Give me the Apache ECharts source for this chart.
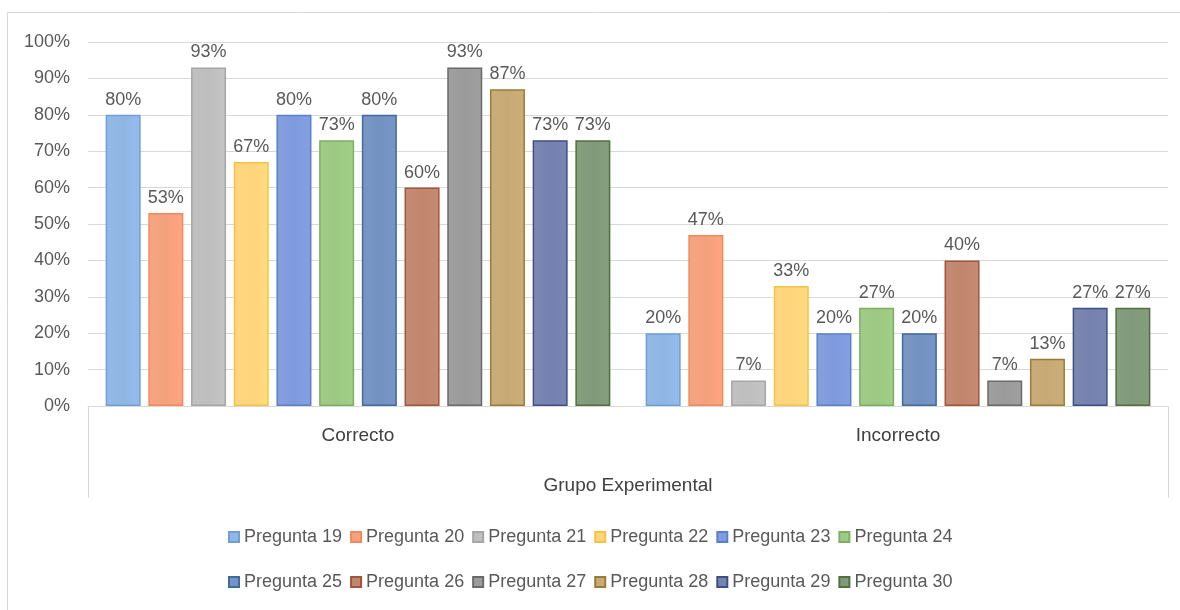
<!DOCTYPE html>
<html>
<head>
<meta charset="utf-8">
<script src="https://cdn.jsdelivr.net/npm/echarts@6/dist/echarts.min.js"></script>
<style>
html,body{margin:0;padding:0;background:#fff;}
#main{width:1180px;height:610px;}
</style>
</head>
<body>
<div id="main"></div>
<script>
const categories = ['Correcto', 'Incorrecto'];
const questions = ['Pregunta 19','Pregunta 20','Pregunta 21','Pregunta 22','Pregunta 23','Pregunta 24',
                   'Pregunta 25','Pregunta 26','Pregunta 27','Pregunta 28','Pregunta 29','Pregunta 30'];
const correcto   = [80, 53, 93, 67, 80, 73, 80, 60, 93, 87, 73, 73];
const incorrecto = [20, 47,  7, 33, 20, 27, 20, 40,  7, 13, 27, 27];
const groupTitle = 'Grupo Experimental';

const fills   = ['#8fb5e4','#f5a07c','#bebebe','#ffd47c','#7f9adc','#9cc883','#7391c1','#c1856d','#9a9a9a','#c6a974','#7581ae','#80997a'];
const borders = ['#6f9fd8','#ee8a5e','#a6a6a6','#f5c342','#5b7fcf','#7daf60','#3f6a9e','#a2553b','#6a6a6a','#9c7c34','#3e4f86','#51703f'];

const G = {left: 88, right: 12, top: 42, bottom: 204};
const W = 1180, H = 610;
const FONT = '"Liberation Sans", sans-serif';

const chart = echarts.init(document.getElementById('main'), null, {renderer: 'canvas'});

function grad(c) {
  return new echarts.graphic.LinearGradient(0, 0, 1, 0, [
    {offset: 0, color: echarts.color.lift(c, 0.06)},
    {offset: 0.5, color: c},
    {offset: 1, color: echarts.color.lift(c, -0.04)}
  ]);
}

const series = questions.map((q, i) => ({
  name: q,
  type: 'bar',
  data: [correcto[i], incorrecto[i]],
  barWidth: 35,
  barGap: '22%',
  itemStyle: {color: grad(fills[i]), borderColor: borders[i], borderWidth: 1.5},
  label: {
    show: true, position: 'top', distance: 6,
    formatter: p => p.value + '%',
    color: '#595959', fontFamily: FONT, fontSize: 18
  }
}));

const axisBottom = H - G.bottom;
const boxBottom = axisBottom + 92;

const legendCommon = {
  left: 223, itemWidth: 10, itemHeight: 10, itemGap: 8, icon: 'rect',
  textStyle: {color: '#595959', fontSize: 18, fontFamily: FONT}
};

chart.setOption({
  animation: false,
  backgroundColor: '#fff',
  textStyle: {fontFamily: FONT},
  grid: {left: G.left, right: G.right, top: G.top, bottom: G.bottom, containLabel: false},
  legend: [
    Object.assign({data: questions.slice(0, 6), top: 523}, legendCommon),
    Object.assign({data: questions.slice(6), top: 568}, legendCommon)
  ],
  xAxis: {
    type: 'category',
    data: categories,
    axisLine: {show: true, lineStyle: {color: '#d9d9d9', width: 1}},
    axisTick: {show: false},
    axisLabel: {color: '#404040', fontSize: 19, fontFamily: FONT, margin: 20},
    name: groupTitle,
    nameLocation: 'middle',
    nameGap: 70,
    nameTextStyle: {color: '#404040', fontSize: 19, fontFamily: FONT}
  },
  yAxis: {
    type: 'value',
    min: 0, max: 100, interval: 10,
    axisLabel: {formatter: v => v + '%', color: '#595959', fontSize: 18, fontFamily: FONT, margin: 18},
    axisLine: {show: false},
    axisTick: {show: false},
    splitLine: {lineStyle: {color: '#d9d9d9', width: 1}}
  },
  graphic: [
    {type: 'rect', shape: {x: 7.5, y: 12.5, width: W - 6, height: H},
     style: {fill: 'none', stroke: '#d9d9d9', lineWidth: 1}, silent: true, z: -1},
    {type: 'line', shape: {x1: G.left + 0.5, y1: axisBottom, x2: G.left + 0.5, y2: boxBottom},
     style: {stroke: '#d9d9d9', lineWidth: 1}, silent: true},
    {type: 'line', shape: {x1: W - G.right + 0.5, y1: axisBottom, x2: W - G.right + 0.5, y2: boxBottom},
     style: {stroke: '#d9d9d9', lineWidth: 1}, silent: true}
  ],
  series: series
});
</script>
</body>
</html>
